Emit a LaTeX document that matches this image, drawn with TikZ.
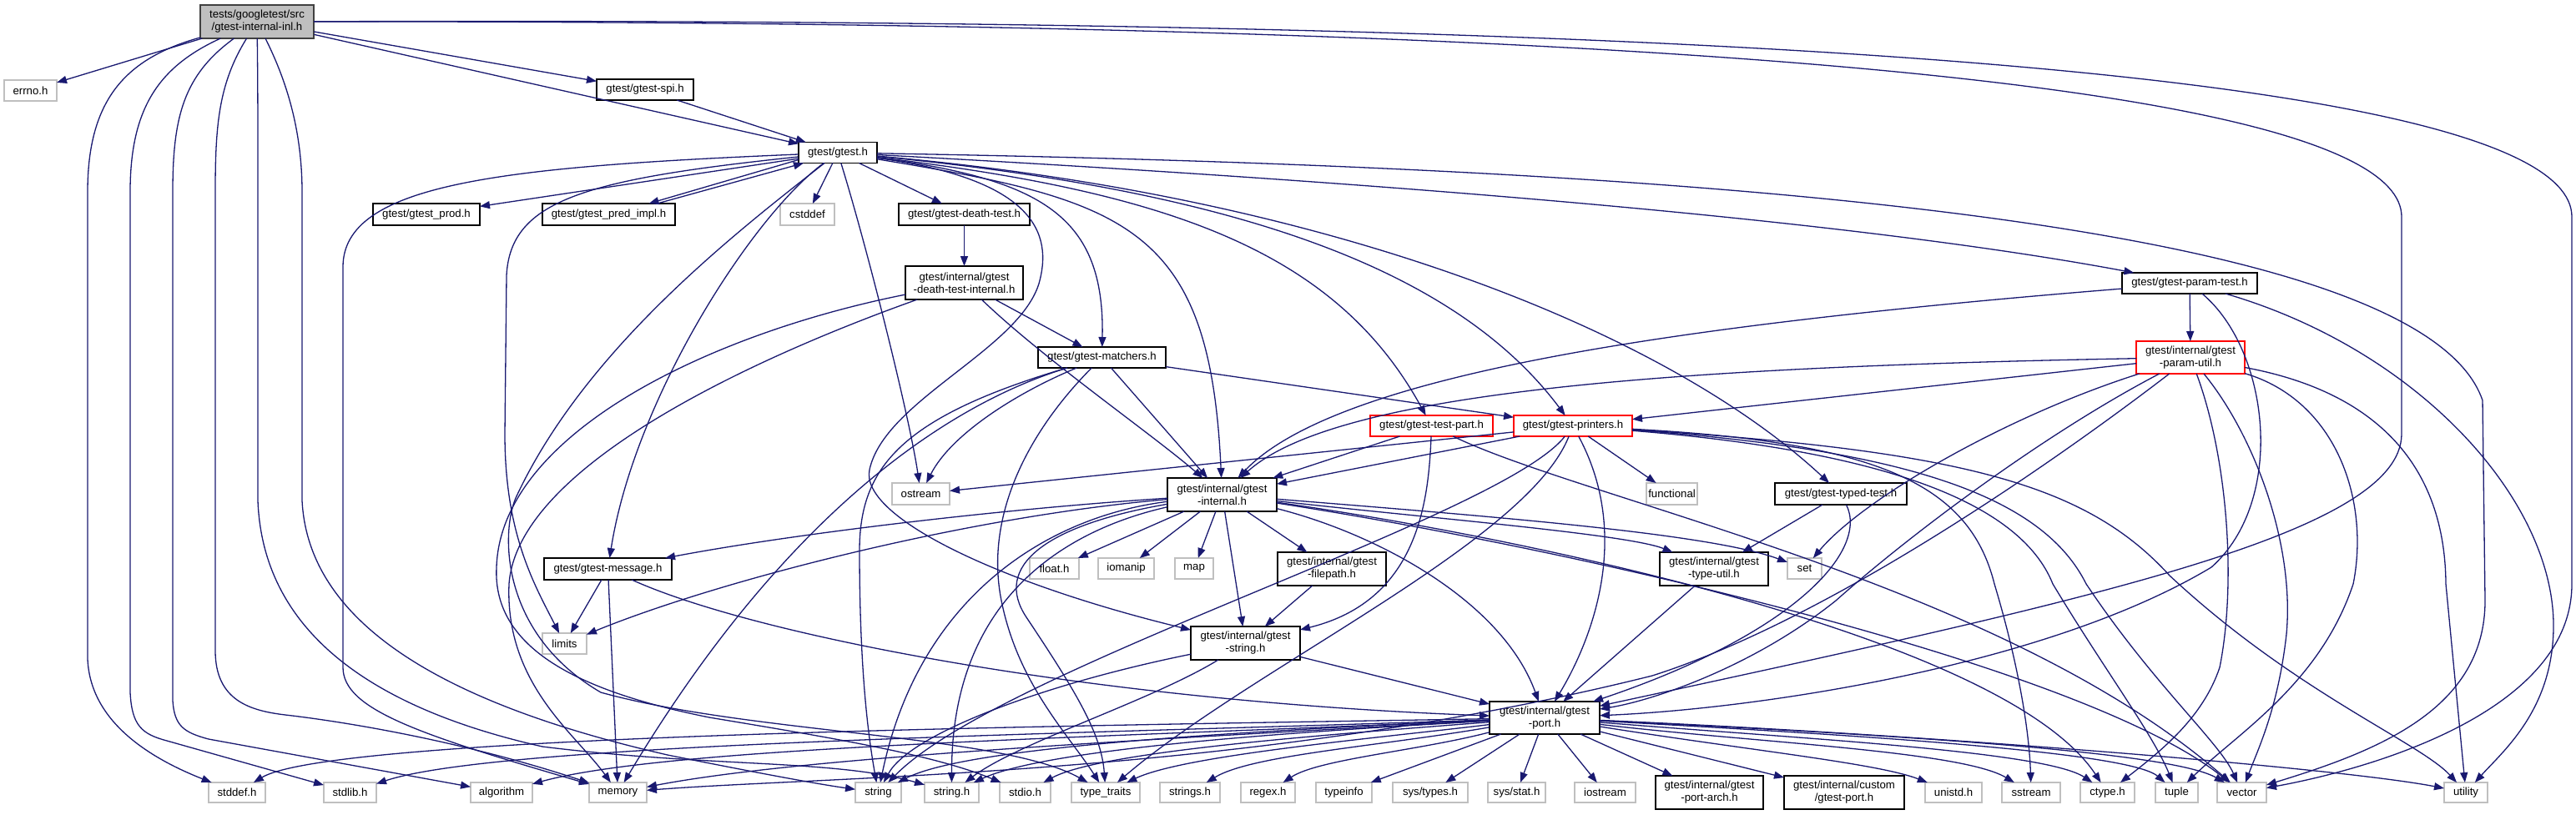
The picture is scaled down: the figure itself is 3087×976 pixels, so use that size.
\documentclass[tikz,border=0pt]{standalone}
\usepackage{fontspec}
\usetikzlibrary{arrows.meta,calc}
\newfontfamily\lblfont{Liberation Sans}
\newcommand\lbl{\lblfont\fontsize{6.6}{7.5}\selectfont}
\definecolor{navy}{HTML}{191970}
\definecolor{lgray}{HTML}{BFBFBF}
\definecolor{rootgray}{HTML}{BFBFBF}
\begin{document}
\begin{tikzpicture}[x=0.5pt,y=-0.5pt,
  bb/.style={draw=black, line width=0.8pt, fill=white, inner sep=0pt, outer sep=0pt, align=center, font=\lbl},
  gb/.style={bb, draw=lgray},
  rb/.style={bb, draw=red},
  e/.style={draw=navy, line width=0.65pt, -{Triangle[length=6pt,width=4.5pt]}}]
\useasboundingbox (0,0) rectangle (3087,976);
% nodes
\node[bb, fill=rootgray, draw=black!75, minimum width=68pt, minimum height=20pt] (root) at (308,26) {tests/googletest/src\\/gtest-internal-inl.h};
\node[gb, minimum width=31.5pt, minimum height=12.5pt] (errno) at (36.5,108.5) {errno.h};
\node[bb, minimum width=58pt, minimum height=12.5pt] (spi) at (773,107.5) {gtest/gtest-spi.h};
\node[bb, minimum width=47pt, minimum height=12.5pt] (gtest) at (1004,183) {gtest/gtest.h};
\node[bb, minimum width=64pt, minimum height=13pt] (prod) at (511,257) {gtest/gtest\_prod.h};
\node[bb, minimum width=79.5pt, minimum height=13pt] (pred) at (729.5,257) {gtest/gtest\_pred\_impl.h};
\node[gb, minimum width=32.5pt, minimum height=13pt] (cstddef) at (967.5,257) {cstddef};
\node[bb, minimum width=78.5pt, minimum height=13pt] (death) at (1155.5,257) {gtest/gtest-death-test.h};
\node[bb, minimum width=70.5pt, minimum height=20pt] (deathint) at (1155.5,339) {gtest/internal/gtest\\-death-test-internal.h};
\node[bb, minimum width=81pt, minimum height=12.5pt] (paramtest) at (2624,339.5) {gtest/gtest-param-test.h};
\node[bb, minimum width=76.5pt, minimum height=12.5pt] (matchers) at (1320.5,428.5) {gtest/gtest-matchers.h};
\node[rb, minimum width=65pt, minimum height=19.5pt] (paramutil) at (2625,428.5) {gtest/internal/gtest\\-param-util.h};
\node[rb, minimum width=73.5pt, minimum height=12.5pt] (testpart) at (1715.5,510.5) {gtest/gtest-test-part.h};
\node[rb, minimum width=71pt, minimum height=12.5pt] (printers) at (1885,510.5) {gtest/gtest-printers.h};
\node[gb, minimum width=34.5pt, minimum height=13pt] (ostream) at (1103.5,592) {ostream};
\node[bb, minimum width=65.5pt, minimum height=20pt] (internal) at (1464.5,593) {gtest/internal/gtest\\-internal.h};
\node[gb, minimum width=30.5pt, minimum height=13pt] (functional) at (2003.5,592) {functional};
\node[bb, minimum width=79pt, minimum height=13pt] (typed) at (2206,592) {gtest/gtest-typed-test.h};
\node[bb, minimum width=76.5pt, minimum height=13pt] (message) at (728.5,682) {gtest/gtest-message.h};
\node[gb, minimum width=26.5pt, minimum height=12.5pt] (limits) at (676.5,771.5) {limits};
\node[gb, minimum width=29.5pt, minimum height=12.5pt] (floath) at (1263.5,681.5) {float.h};
\node[gb, minimum width=33.5pt, minimum height=12.5pt] (iomanip) at (1349.5,681.5) {iomanip};
\node[gb, minimum width=23pt, minimum height=12.5pt] (map) at (1431,681.5) {map};
\node[bb, minimum width=65pt, minimum height=20pt] (filepath) at (1596,682) {gtest/internal/gtest\\-filepath.h};
\node[bb, minimum width=65pt, minimum height=20pt] (typeutil) at (2054,682) {gtest/internal/gtest\\-type-util.h};
\node[gb, minimum width=20.5pt, minimum height=12.5pt] (set) at (2162.5,681.5) {set};
\node[bb, minimum width=65.5pt, minimum height=20pt] (gstring) at (1492.5,771) {gtest/internal/gtest\\-string.h};
\node[bb, minimum width=66pt, minimum height=19.5pt] (port) at (1851,860.5) {gtest/internal/gtest\\-port.h};
\node[gb, minimum width=34pt, minimum height=12pt] (stddef) at (284,950) {stddef.h};
\node[gb, minimum width=31.5pt, minimum height=12pt] (stdlib) at (419.5,950) {stdlib.h};
\node[gb, minimum width=37pt, minimum height=12pt] (algorithm) at (601,950) {algorithm};
\node[gb, minimum width=34.5pt, minimum height=12pt] (memory) at (740.5,950) {memory};
\node[gb, minimum width=27.5pt, minimum height=12pt] (string) at (1052.5,950) {string};
\node[gb, minimum width=32.5pt, minimum height=12pt] (stringh) at (1140.5,950) {string.h};
\node[gb, minimum width=30.5pt, minimum height=12pt] (stdio) at (1228.5,950) {stdio.h};
\node[gb, minimum width=41pt, minimum height=12pt] (typetraits) at (1325,950) {type\_traits};
\node[gb, minimum width=36pt, minimum height=12pt] (strings) at (1426,950) {strings.h};
\node[gb, minimum width=32.5pt, minimum height=12pt] (regex) at (1519.5,950) {regex.h};
\node[gb, minimum width=33.5pt, minimum height=12pt] (typeinfo) at (1610.5,950) {typeinfo};
\node[gb, minimum width=45pt, minimum height=12pt] (systypes) at (1714,950) {sys/types.h};
\node[gb, minimum width=34.5pt, minimum height=12pt] (sysstat) at (1817.5,950) {sys/stat.h};
\node[gb, minimum width=36.5pt, minimum height=12pt] (iostream) at (1923.5,950) {iostream};
\node[bb, minimum width=64.5pt, minimum height=20pt] (portarch) at (2048.5,950) {gtest/internal/gtest\\-port-arch.h};
\node[bb, minimum width=72pt, minimum height=20pt] (custom) at (2210,950) {gtest/internal/custom\\/gtest-port.h};
\node[gb, minimum width=34pt, minimum height=12pt] (unistd) at (2341,950) {unistd.h};
\node[gb, minimum width=35pt, minimum height=12pt] (sstream) at (2434,950) {sstream};
\node[gb, minimum width=32.5pt, minimum height=12pt] (ctype) at (2525.5,950) {ctype.h};
\node[gb, minimum width=25.5pt, minimum height=12pt] (tuple) at (2608.5,950) {tuple};
\node[gb, minimum width=29.5pt, minimum height=12pt] (vector) at (2686.5,950) {vector};
\node[gb, minimum width=26pt, minimum height=12pt] (utility) at (2955,950) {utility};

% ---------- root
\draw[e] (root) -- (errno);
\draw[e] (root) -- (spi);
\draw[e] (root) -- (gtest);
\draw[e] (root) .. controls (150,70) and (105,120) .. (105,230) -- (105,790) .. controls (108,860) and (170,905) .. (stddef);
\draw[e] (root) .. controls (190,80) and (156,130) .. (156,230) -- (156,830) .. controls (158,870) and (170,880) .. (200,888) -- (stdlib);
\draw[e] (root) .. controls (220,90) and (207,140) .. (207,230) -- (207,840) .. controls (209,870) and (220,878) .. (250,886) -- (algorithm);
\draw[e] (root) .. controls (262,100) and (258,150) .. (258,230) -- (258,780) .. controls (258,840) and (300,852) .. (342,857) .. controls (420,866) and (560,890) .. (memory);
\draw[e] (root) .. controls (309,100) and (309,150) .. (309,230) -- (309,600) .. controls (315,760) and (450,850) .. (650,895) .. controls (850,920) and (1000,910) .. (stringh);
\draw[e] (root) .. controls (340,90) and (362,150) .. (362,230) -- (362,600) .. controls (370,760) and (560,850) .. (800,905) .. controls (900,925) and (980,940) .. (string);
\draw[e] (root) .. controls (1500,25) and (2878,60) .. (2878,260) -- (2878,520) .. controls (2878,640) and (2500,720) .. (port);
\draw[e] (root) .. controls (1600,22) and (3082,50) .. (3082,260) -- (3082,700) .. controls (3082,850) and (2850,920) .. (vector);
% ---------- spi / gtest
\draw[e] (spi) -- (gtest);
\draw[e] (gtest) -- (cstddef);
\draw[e] (gtest) -- (prod);
\draw[e] ($(gtest.south west)+(0,2pt)$) -- ($(pred.north)+(24pt,0)$);
\draw[e] ($(pred.north)+(29pt,0)$) -- ($(gtest.south west)+(3pt,0)$);
\draw[e] (gtest) .. controls (700,215) and (612,240) .. (607,330) -- (605,520) .. controls (605,640) and (640,700) .. (limits);
\draw[e] (gtest) .. controls (600,200) and (411,220) .. (411,320) -- (411,800) .. controls (411,850) and (500,880) .. (memory);
\draw[e] (gtest) .. controls (880,280) and (700,420) .. (618,597) .. controls (600,640) and (600,760) .. (720,830) .. controls (900,880) and (1200,880) .. (typetraits);
\draw[e] (gtest) .. controls (900,260) and (760,480) .. (message);
\draw[e] (gtest) .. controls (1040,300) and (1090,500) .. (ostream);
\draw[e] (gtest) -- (death);
\draw[e] (gtest) .. controls (1250,215) and (1324,260) .. (matchers);
\draw[e] (gtest) .. controls (1240,215) and (1262,280) .. (1245,340) .. controls (1220,420) and (1060,480) .. (1042,563) .. controls (1030,620) and (1200,700) .. (gstring);
\draw[e] (gtest) .. controls (1350,240) and (1450,270) .. (internal);
\draw[e] (gtest) .. controls (1400,230) and (1600,300) .. (testpart);
\draw[e] (gtest) .. controls (1500,230) and (1750,330) .. (printers);
\draw[e] (gtest) .. controls (1600,235) and (2000,400) .. (typed);
\draw[e] (gtest) .. controls (1600,215) and (2200,260) .. (paramtest);
\draw[e] (gtest) .. controls (2000,200) and (2900,260) .. (2975,480) -- (2978,720) .. controls (2978,850) and (2850,900) .. (vector);
% ---------- death test
\draw[e] (death) -- (deathint);
\draw[e] (deathint) -- (matchers);
\draw[e] (deathint) .. controls (1250,430) and (1380,520) .. (internal);
\draw[e] (deathint) .. controls (850,400) and (600,520) .. (595,680) .. controls (590,780) and (700,830) .. (850,860) .. controls (1000,885) and (1120,905) .. (stdio);
\draw[e] (deathint) .. controls (900,430) and (620,560) .. (610,700) .. controls (605,820) and (690,880) .. (memory);
% ---------- matchers
\draw[e] (matchers) .. controls (1150,480) and (950,600) .. (memory);
\draw[e] (matchers) .. controls (1080,500) and (1030,560) .. (1030,660) .. controls (1030,800) and (1040,880) .. (string);
\draw[e] (matchers) .. controls (1220,470) and (1140,520) .. (ostream);
\draw[e] (matchers) .. controls (1230,520) and (1180,620) .. (1200,720) .. controls (1220,820) and (1280,880) .. (typetraits);
\draw[e] (matchers) -- (internal);
\draw[e] (matchers) -- (printers);
% ---------- printers
\draw[e] (printers) -- (ostream);
\draw[e] (printers) -- (internal);
\draw[e] (printers) -- (functional);
\draw[e] (printers) .. controls (1800,620) and (1200,800) .. (string);
\draw[e] (printers) .. controls (1830,650) and (1500,800) .. (typetraits);
\draw[e] (printers) .. controls (1960,650) and (1900,780) .. (port);
\draw[e] (printers) .. controls (2250,530) and (2360,580) .. (2390,700) .. controls (2420,800) and (2432,880) .. (sstream);
\draw[e] (printers) .. controls (2250,540) and (2420,600) .. (2460,700) .. controls (2520,800) and (2580,880) .. (tuple);
\draw[e] (printers) .. controls (2300,540) and (2450,600) .. (2500,700) .. controls (2580,820) and (2660,890) .. (vector);
\draw[e] (printers) .. controls (2350,540) and (2500,580) .. (2600,690) .. controls (2750,830) and (2900,890) .. (utility);
% ---------- test part
\draw[e] (testpart) -- (internal);
\draw[e] (testpart) .. controls (1712,600) and (1700,720) .. (gstring);
\draw[e] (testpart) .. controls (1900,600) and (2400,700) .. (vector);
% ---------- internal
\draw[e] (internal) .. controls (1200,610) and (950,640) .. (message);
\draw[e] (internal) .. controls (1150,620) and (850,700) .. (limits);
\draw[e] (internal) .. controls (1250,620) and (1100,720) .. (string);
\draw[e] (internal) .. controls (1300,630) and (1140,700) .. (stringh);
\draw[e] (internal) .. controls (1250,630) and (1190,680) .. (1230,740) .. controls (1290,830) and (1320,880) .. (typetraits);
\draw[e] (internal) -- (floath);
\draw[e] (internal) -- (iomanip);
\draw[e] (internal) -- (map);
\draw[e] (internal) -- (gstring);
\draw[e] (internal) -- (filepath);
\draw[e] (internal) .. controls (1700,620) and (1950,640) .. (typeutil);
\draw[e] (internal) .. controls (1800,620) and (2050,640) .. (set);
\draw[e] (internal) .. controls (1800,640) and (2400,760) .. (ctype);
\draw[e] (internal) .. controls (1900,660) and (2500,800) .. (vector);
\draw[e] (internal) .. controls (1650,640) and (1800,720) .. (port);
% ---------- string / filepath / type util / typed
\draw[e] (filepath) -- (gstring);
\draw[e] (gstring) .. controls (1250,820) and (1090,880) .. (string);
\draw[e] (gstring) .. controls (1380,840) and (1220,890) .. (stringh);
\draw[e] (gstring) -- (port);
\draw[e] (typeutil) -- (port);
\draw[e] (typed) -- (typeutil);
\draw[e] (typed) .. controls (2240,660) and (2150,760) .. (port);
% ---------- param test
\draw[e] (paramtest) .. controls (2000,390) and (1600,450) .. (internal);
\draw[e] (paramtest) -- (paramutil);
\draw[e] (paramtest) .. controls (2720,420) and (2740,600) .. (2650,680) .. controls (2450,800) and (2100,850) .. (port);
\draw[e] (paramtest) .. controls (2900,420) and (3060,600) .. (3060,750) .. controls (3060,850) and (3000,900) .. (utility);
% ---------- param util
\draw[e] (paramutil) .. controls (2000,440) and (1600,470) .. (internal);
\draw[e] (paramutil) -- (printers);
\draw[e] (paramutil) .. controls (2400,500) and (2230,600) .. (set);
\draw[e] (paramutil) .. controls (2450,520) and (2290,640) .. (2200,720) .. controls (2100,800) and (1980,840) .. (port);
\draw[e] (paramutil) .. controls (2480,540) and (2200,740) .. (1980,810) .. controls (1500,930) and (1000,930) .. (memory);
\draw[e] (paramutil) .. controls (2670,550) and (2680,700) .. (2660,800) .. controls (2640,860) and (2590,900) .. (ctype);
\draw[e] (paramutil) .. controls (2700,520) and (2750,650) .. (2740,760) .. controls (2730,850) and (2705,900) .. (vector);
\draw[e] (paramutil) .. controls (2800,480) and (2840,600) .. (2820,700) .. controls (2780,820) and (2680,880) .. (tuple);
\draw[e] (paramutil) .. controls (2850,470) and (2930,560) .. (2931,700) -- (utility);
% ---------- message
\draw[e] (message) -- (limits);
\draw[e] (message) -- (memory);
\draw[e] (message) .. controls (900,760) and (1300,840) .. (port);
% ---------- port
\draw[e] (port) .. controls (1300,870) and (400,880) .. (stddef);
\draw[e] (port) .. controls (1300,880) and (600,890) .. (stdlib);
\draw[e] (port) .. controls (1300,885) and (800,895) .. (algorithm);
\draw[e] (port) .. controls (1300,890) and (950,910) .. (memory);
\draw[e] (port) .. controls (1400,880) and (1150,900) .. (string);
\draw[e] (port) .. controls (1500,880) and (1250,900) .. (stringh);
\draw[e] (port) .. controls (1600,880) and (1320,900) .. (stdio);
\draw[e] (port) .. controls (1650,885) and (1420,905) .. (typetraits);
\draw[e] (port) .. controls (1650,895) and (1500,905) .. (strings);
\draw[e] (port) .. controls (1700,900) and (1580,910) .. (regex);
\draw[e] (port) -- (typeinfo);
\draw[e] (port) -- (systypes);
\draw[e] (port) -- (sysstat);
\draw[e] (port) -- (iostream);
\draw[e] (port) -- (portarch);
\draw[e] (port) -- (custom);
\draw[e] (port) .. controls (2100,900) and (2250,915) .. (unistd);
\draw[e] (port) .. controls (2100,890) and (2350,900) .. (sstream);
\draw[e] (port) .. controls (2150,885) and (2450,900) .. (ctype);
\draw[e] (port) .. controls (2200,880) and (2550,900) .. (tuple);
\draw[e] (port) .. controls (2250,880) and (2600,900) .. (vector);
\draw[e] (port) .. controls (2300,880) and (2800,920) .. (utility);
\end{tikzpicture}
\end{document}
